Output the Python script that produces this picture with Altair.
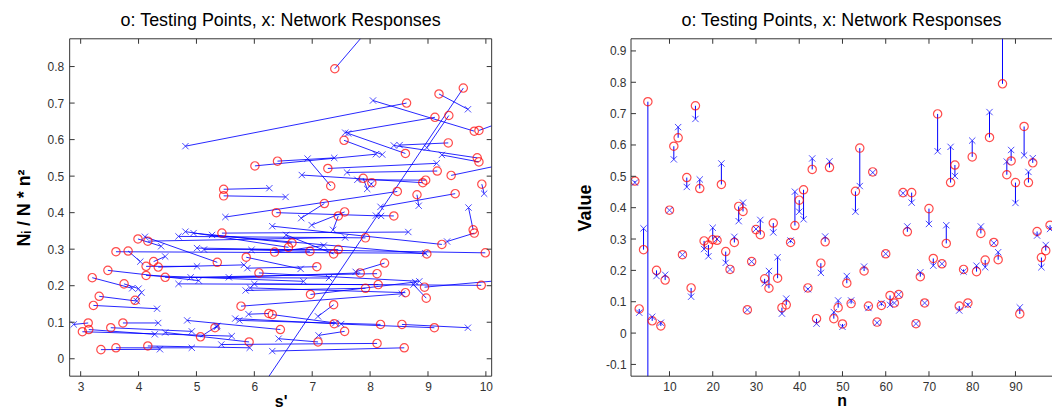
import altair as alt
import pandas as pd

TITLE = "o: Testing Points, x: Network Responses"

# ---------------- left panel: testing points (circles) and network responses (x) ----------
circ_s = [7.39, 9.61, 9.19, 8.63, 9.12, 9.36, 9.80, 9.88, 7.55, 9.35,
          8.61, 9.85, 9.88, 6.01, 6.40, 7.27, 7.32, 9.16, 9.40, 7.88,
          8.03, 8.91, 8.96, 5.47, 5.47, 8.47, 8.81, 9.47, 9.93, 7.21,
          6.38, 7.45, 7.56, 8.41, 9.78, 9.80, 9.24, 3.99, 4.16, 5.36,
          7.92, 6.59, 6.65, 8.98, 5.44, 7.37, 9.99, 7.45, 6.35, 6.96,
          3.61, 3.82, 4.26, 4.13, 4.34, 5.86, 7.08, 8.25, 7.83, 8.12,
          6.08, 3.47, 4.13, 4.46, 3.20, 3.75, 3.94, 3.32, 3.22, 8.14,
          7.92, 8.94, 8.61, 8.97, 9.92, 6.97, 5.77, 7.37, 6.25, 6.31,
          3.13, 3.03, 3.14, 3.52, 3.73, 5.32, 5.07, 6.45, 5.91, 7.38,
          7.56, 8.18, 8.55, 9.11, 7.10, 8.12, 8.59, 3.35, 3.61, 4.16]
circ_v = [0.794, 0.741, 0.725, 0.700, 0.661, 0.666, 0.623, 0.625, 0.598, 0.591,
          0.562, 0.550, 0.539, 0.528, 0.541, 0.521, 0.473, 0.514, 0.502, 0.494,
          0.482, 0.482, 0.489, 0.464, 0.446, 0.458, 0.449, 0.452, 0.478, 0.425,
          0.400, 0.391, 0.402, 0.391, 0.353, 0.344, 0.313, 0.328, 0.322, 0.264,
          0.331, 0.305, 0.317, 0.287, 0.344, 0.287, 0.290, 0.299, 0.292, 0.294,
          0.293, 0.295, 0.266, 0.253, 0.251, 0.278, 0.252, 0.262, 0.235, 0.233,
          0.235, 0.242, 0.228, 0.223, 0.222, 0.205, 0.160, 0.171, 0.146, 0.203,
          0.193, 0.196, 0.181, 0.166, 0.201, 0.176, 0.144, 0.148, 0.124, 0.121,
          0.098, 0.074, 0.080, 0.085, 0.098, 0.085, 0.060, 0.080, 0.046, 0.096,
          0.075, 0.094, 0.094, 0.085, 0.046, 0.042, 0.030, 0.025, 0.030, 0.035]
resp_s = [8.50, 5.18, 9.69, 4.81, 7.57, 8.98, 8.05, 11.00, 8.21, 8.51,
          7.62, 8.41, 9.24, 8.10, 7.38, 9.15, 6.92, 7.60, 11.00, 7.95,
          8.02, 6.82, 7.78, 6.26, 6.54, 5.50, 8.84, 8.18, 9.97, 6.81,
          8.19, 7.36, 6.99, 8.10, 9.70, 9.33, 6.31, 4.39, 7.57, 4.11,
          4.69, 4.81, 4.95, 5.27, 8.66, 6.55, 5.01, 5.13, 7.20, 5.95,
          8.95, 4.03, 4.46, 5.01, 5.82, 6.80, 5.88, 7.75, 5.56, 4.90,
          8.85, 5.04, 6.85, 7.29, 3.89, 4.00, 4.05, 3.97, 4.32, 4.69,
          5.85, 11.50, 5.93, 8.75, 6.00, 8.78, 8.55, 7.10, 5.90, 7.40,
          2.88, 5.61, 4.28, 4.92, 4.34, 5.35, 5.36, 4.84, 4.46, 5.67,
          7.11, 5.74, 9.69, 7.50, 6.42, 5.43, 6.31, 4.37, 4.92, 5.92]
resp_v = [1.000, -0.300, 0.683, 0.582, 0.619, 0.578, 0.707, 0.690, 0.559, 0.585,
          0.617, 0.584, 0.558, 0.560, 0.550, 0.535, 0.548, 0.510, 0.555, 0.465,
          0.478, 0.503, 0.490, 0.467, 0.443, 0.388, 0.419, 0.416, 0.452, 0.385,
          0.391, 0.353, 0.366, 0.392, 0.414, 0.321, 0.363, 0.308, 0.332, 0.334,
          0.335, 0.348, 0.344, 0.339, 0.347, 0.339, 0.303, 0.299, 0.310, 0.298,
          0.289, 0.266, 0.280, 0.253, 0.257, 0.246, 0.248, 0.238, 0.223, 0.223,
          0.212, 0.214, 0.212, 0.221, 0.193, 0.192, 0.181, 0.158, 0.137, 0.205,
          0.187, 0.232, 0.194, 0.203, 0.205, 0.210, 0.178, 0.116, 0.122, 0.098,
          0.094, 0.062, 0.067, 0.075, 0.098, 0.087, 0.090, 0.105, 0.072, 0.110,
          0.064, 0.105, 0.085, 0.095, 0.055, 0.039, 0.021, 0.026, 0.030, 0.030]

# ---------------- right panel: value against sample index n ----------------
n_vals = list(range(2, 99))
target = [0.485, 0.077, 0.266, 0.738, 0.039, 0.200, 0.023, 0.169, 0.392, 0.596,
          0.623, 0.250, 0.496, 0.144, 0.725, 0.461, 0.294, 0.281, 0.298, 0.296,
          0.474, 0.260, 0.203, 0.289, 0.404, 0.388, 0.074, 0.228, 0.330, 0.314,
          0.173, 0.143, 0.351, 0.175, 0.081, 0.090, 0.289, 0.343, 0.424, 0.457,
          0.144, 0.522, 0.046, 0.223, 0.291, 0.528, 0.046, 0.081, 0.029, 0.159,
          0.094, 0.452, 0.590, 0.198, 0.086, 0.514, 0.035, 0.088, 0.253, 0.120,
          0.096, 0.123, 0.448, 0.323, 0.448, 0.030, 0.180, 0.096, 0.397, 0.238,
          0.699, 0.221, 0.286, 0.480, 0.536, 0.086, 0.203, 0.096, 0.562, 0.196,
          0.318, 0.233, 0.624, 0.289, 0.234, 0.795, 0.505, 0.549, 0.480, 0.061,
          0.659, 0.480, 0.543, 0.324, 0.241, 0.263, 0.344]
response = [0.480, 0.065, 0.334, -0.300, 0.052, 0.182, 0.033, 0.186, 0.392, 0.554,
            0.657, 0.250, 0.466, 0.116, 0.683, 0.490, 0.268, 0.245, 0.336, 0.300,
            0.541, 0.224, 0.203, 0.307, 0.357, 0.416, 0.074, 0.228, 0.332, 0.361,
            0.159, 0.198, 0.321, 0.242, 0.062, 0.110, 0.295, 0.451, 0.387, 0.363,
            0.140, 0.557, 0.030, 0.192, 0.308, 0.548, 0.067, 0.104, 0.020, 0.182,
            0.104, 0.387, 0.469, 0.212, 0.080, 0.512, 0.033, 0.095, 0.253, 0.090,
            0.096, 0.123, 0.446, 0.340, 0.416, 0.030, 0.194, 0.096, 0.348, 0.215,
            0.580, 0.221, 0.344, 0.594, 0.501, 0.072, 0.196, 0.090, 0.614, 0.215,
            0.340, 0.210, 0.705, 0.287, 0.258, 1.000, 0.547, 0.584, 0.415, 0.082,
            0.567, 0.514, 0.558, 0.311, 0.210, 0.281, 0.332]

left_xticks = [3, 4, 5, 6, 7, 8, 9, 10]
left_yticks = [0.0, 0.1, 0.2, 0.3, 0.4, 0.5, 0.6, 0.7, 0.8]
right_xticks = [10, 20, 30, 40, 50, 60, 70, 80, 90]
right_yticks = [-0.1, 0.0, 0.1, 0.2, 0.3, 0.4, 0.5, 0.6, 0.7, 0.8, 0.9]

# ---------------- styling ----------------
W1, W2, H = 424, 423, 339
RED = "#ff0000"
BLUE = "#0000ff"
FRAME = "#333333"
FONT = "Liberation Sans"
XPATH = "M-1,-1L1,1M-1,1L1,-1"
TL = 5  # inward tick length
LABEL_EXPR = ("datum.value == 0 ? '0' : (datum.value < 0 ? '-' + format(-datum.value, '.1f')"
              " : format(datum.value, '.1f'))")


def axis(values, title, pad, tpad, expr=None, tsize=18):
    kw = dict(values=values, title=title, grid=False, domain=False, ticks=False,
              tickSize=0, labelPadding=pad, titlePadding=tpad, labelFlush=False,
              labelOverlap=False, titleFontSize=tsize)
    if expr:
        kw["labelExpr"] = expr
    return alt.Axis(**kw)


def frame_and_ticks(xs, ys, xax, yax, xticks, yticks, W, right_side=True):
    one = pd.DataFrame({"a": [0]})
    rule = dict(color=FRAME, strokeWidth=1)
    layers = [
        alt.Chart(one).mark_rule(**rule).encode(x=alt.value(0), x2=alt.value(W), y=alt.value(0)),
        alt.Chart(one).mark_rule(**rule).encode(x=alt.value(0), x2=alt.value(W), y=alt.value(H)),
        alt.Chart(one).mark_rule(**rule).encode(x=alt.value(0), y=alt.value(0), y2=alt.value(H)),
    ]
    if right_side:
        layers.append(alt.Chart(one).mark_rule(**rule).encode(
            x=alt.value(W), y=alt.value(0), y2=alt.value(H)))
    xt = alt.Chart(pd.DataFrame({"t": xticks})).mark_rule(**rule)
    yt = alt.Chart(pd.DataFrame({"t": yticks})).mark_rule(**rule)
    xe = alt.X("t:Q", scale=xs, axis=xax)
    ye = alt.Y("t:Q", scale=ys, axis=yax)
    layers += [
        xt.encode(x=xe, y=alt.value(0), y2=alt.value(TL)),
        xt.encode(x=xe, y=alt.value(H), y2=alt.value(H - TL)),
        yt.encode(y=ye, x=alt.value(0), x2=alt.value(TL)),
    ]
    if right_side:
        layers.append(yt.encode(y=ye, x=alt.value(W - TL), x2=alt.value(W)))
    return layers


title_params = dict(fontSize=18, font=FONT, fontWeight="normal", color="black",
                    anchor="middle", frame="group", offset=-6, baseline="alphabetic")

# ---- left chart ----
lxs = alt.Scale(domain=[2.81, 10.10], nice=False, zero=False)
lys = alt.Scale(domain=[-0.0477, 0.876], nice=False, zero=False)
lxa = axis(left_xticks, "s'", 5, 1, tsize=16)
lya = axis(left_yticks, "Nᵢ / N * n²", 6, 14, LABEL_EXPR)

seg_rows = []
for i, (a, b, c, d) in enumerate(zip(circ_s, circ_v, resp_s, resp_v)):
    seg_rows.append({"id": i, "k": 0, "s": a, "v": b})
    seg_rows.append({"id": i, "k": 1, "s": c, "v": d})
segs = pd.DataFrame(seg_rows)
circ_df = pd.DataFrame({"s": circ_s, "v": circ_v})
resp_df = pd.DataFrame({"s": resp_s, "v": resp_v})

l_lines = alt.Chart(segs).mark_line(color=BLUE, strokeWidth=1, clip=True, opacity=0.85).encode(
    x=alt.X("s:Q", scale=lxs, axis=lxa), y=alt.Y("v:Q", scale=lys, axis=lya),
    detail="id:N", order="k:Q")
l_circ = alt.Chart(circ_df).mark_point(shape="circle", filled=False, color=RED, size=70,
                                        strokeWidth=1.2, clip=True).encode(
    x=alt.X("s:Q", scale=lxs, axis=lxa), y=alt.Y("v:Q", scale=lys, axis=lya))
l_x = alt.Chart(resp_df).mark_point(shape=XPATH, filled=False, color=BLUE, size=40,
                                     strokeWidth=1, clip=True).encode(
    x=alt.X("s:Q", scale=lxs, axis=lxa), y=alt.Y("v:Q", scale=lys, axis=lya))

left = alt.layer(l_lines, l_circ, l_x,
                 *frame_and_ticks(lxs, lys, lxa, lya, left_xticks, left_yticks, W1, True),
                 title=alt.TitleParams(TITLE, **title_params)).properties(width=W1, height=H)

# ---- right chart ----
rxs = alt.Scale(domain=[1.1, 98.45], nice=False, zero=False)
rys = alt.Scale(domain=[-0.1375, 0.9387], nice=False, zero=False)
rxa = axis(right_xticks, "n", 5, 0, tsize=16)
rya = axis(right_yticks, "Value", 5, 11, LABEL_EXPR)
rdf = pd.DataFrame({"n": n_vals, "target": target, "response": response})

r_rules = alt.Chart(rdf).mark_rule(color=BLUE, strokeWidth=1, clip=True).encode(
    x=alt.X("n:Q", scale=rxs, axis=rxa), y=alt.Y("target:Q", scale=rys, axis=rya),
    y2="response:Q")
r_circ = alt.Chart(rdf).mark_point(shape="circle", filled=False, color=RED, size=70,
                                    strokeWidth=1.2, clip=True).encode(
    x=alt.X("n:Q", scale=rxs, axis=rxa), y=alt.Y("target:Q", scale=rys, axis=rya))
r_x = alt.Chart(rdf).mark_point(shape=XPATH, filled=False, color=BLUE, size=40,
                                 strokeWidth=1, clip=True).encode(
    x=alt.X("n:Q", scale=rxs, axis=rxa), y=alt.Y("response:Q", scale=rys, axis=rya))

right = alt.layer(r_rules, r_circ, r_x,
                  *frame_and_ticks(rxs, rys, rxa, rya, right_xticks, right_yticks, W2, False),
                  title=alt.TitleParams(TITLE, **title_params)).properties(width=W2, height=H)

chart = alt.hconcat(left, right, spacing=84).properties(
    padding={"left": 15, "top": 11, "right": 0, "bottom": 0},
    background="white",
).configure_view(stroke="transparent", strokeWidth=0).configure_axis(
    labelFont=FONT, labelFontSize=12, labelColor="#333333",
    titleFont=FONT, titleFontSize=18, titleFontWeight="bold", titleColor="black")

chart.save("out.html", embed_options={"renderer": "svg", "actions": False})
